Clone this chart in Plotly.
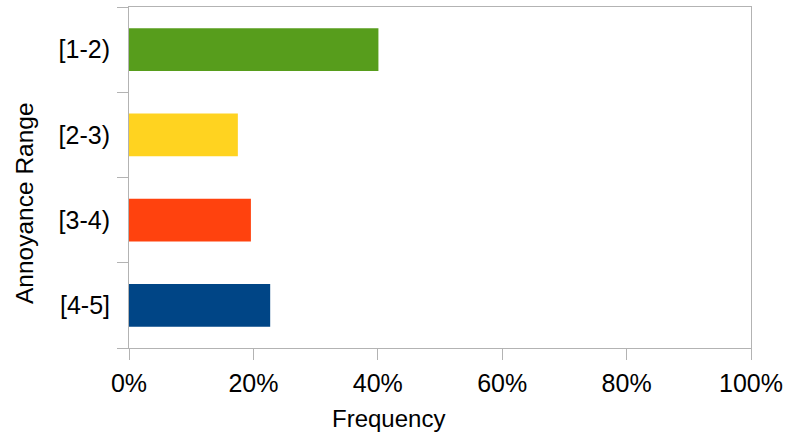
import plotly.graph_objects as go

categories = ["[1-2)", "[2-3)", "[3-4)", "[4-5]"]
frequency = [0.401, 0.175, 0.196, 0.227]
colors = ["#579D1C", "#FFD320", "#FF420E", "#004586"]
x_ticks = [0, 0.2, 0.4, 0.6, 0.8, 1.0]
x_tick_labels = ["0%", "20%", "40%", "60%", "80%", "100%"]
x_title = "Frequency"
y_title = "Annoyance Range"

font = "Liberation Sans, Arial, sans-serif"
line_c = "#b3b3b3"

fig = go.Figure(
    go.Bar(
        y=categories,
        x=frequency,
        orientation="h",
        marker=dict(color=colors, line=dict(width=0)),
        width=0.5,
    )
)

fig.update_layout(
    width=786,
    height=437,
    margin=dict(l=129, r=35, t=7, b=89),
    paper_bgcolor="white",
    plot_bgcolor="white",
    font=dict(family=font, size=25, color="black"),
    showlegend=False,
    annotations=[
        dict(
            text=x_title,
            xref="paper", yref="paper", x=0.5, y=0,
            xanchor="center", yanchor="middle",
            xshift=-51.5, yshift=-70.5,
            showarrow=False,
            font=dict(size=24),
        ),
        dict(
            text=y_title,
            xref="paper", yref="paper", x=0, y=0.5,
            xanchor="center", yanchor="middle",
            xshift=-105, yshift=-25.5,
            textangle=-90,
            showarrow=False,
            font=dict(size=24.5),
        ),
    ],
)

fig.update_xaxes(
    range=[0, 1],
    tickvals=x_ticks,
    ticktext=x_tick_labels,
    showgrid=False,
    zeroline=False,
    showline=True,
    mirror=True,
    linecolor=line_c,
    linewidth=1,
    ticks="outside",
    ticklen=11,
    tickcolor=line_c,
    tickfont=dict(size=25),
    ticklabelstandoff=2,
    automargin=False,
)

fig.update_yaxes(
    type="category",
    categoryorder="array",
    categoryarray=categories[::-1],
    tickson="boundaries",
    showgrid=False,
    zeroline=False,
    showline=True,
    mirror=True,
    linecolor=line_c,
    linewidth=1,
    ticks="outside",
    ticklen=11,
    tickcolor=line_c,
    tickfont=dict(size=25),
    ticklabelstandoff=13,
    automargin=False,
)

fig.write_html(
    "out.html",
    config={"displayModeBar": False},
    post_script="document.body.style.margin='0';document.body.style.padding='0';",
)
